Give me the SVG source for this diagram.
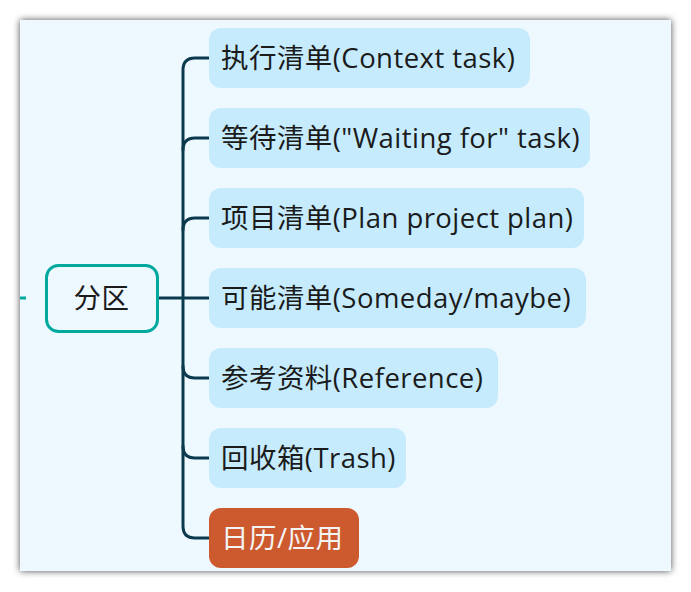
<svg xmlns="http://www.w3.org/2000/svg" width="691" height="592" viewBox="0 0 691 592">
<defs>
<filter id="sh" x="-10%" y="-10%" width="120%" height="120%">
<feDropShadow dx="0" dy="0" stdDeviation="3.5" flood-color="#000" flood-opacity="0.7"/>
</filter>
<style>
.child{fill:#c5ebfd;}
.lbl{font-family:"Open Sans","Noto Sans CJK SC",sans-serif;font-size:27.5px;letter-spacing:0.45px;fill:#1b1b1b;}
.conn{fill:none;stroke:#0b3a4e;stroke-width:3;stroke-linecap:round;}
</style>
</defs>
<rect x="20" y="20" width="651" height="551" fill="#eef9ff" filter="url(#sh)"/>
<g id="connectors">
<line x1="20" y1="298" x2="26" y2="298" stroke="#00a99d" stroke-width="3"/>
<path class="conn" d="M158 298 H209"/>
<path class="conn" d="M209 58 H195 Q183 58 183 70 V526 Q183 538 195 538 H209"/>
<path class="conn" d="M209 138 H195 Q183 138 183 150"/>
<path class="conn" d="M209 218 H195 Q183 218 183 230"/>
<path class="conn" d="M209 378 H195 Q183 378 183 366"/>
<path class="conn" d="M209 458 H195 Q183 458 183 446"/>
</g>
<g id="root">
<rect x="46.5" y="265.5" width="111" height="66" rx="12" fill="#eef9ff" stroke="#00a99d" stroke-width="3"/>
<text class="lbl" x="101.5" y="307.5" text-anchor="middle">分区</text>
</g>
<g id="n1">
<rect class="child" x="209" y="28" width="321" height="60" rx="12"/>
<text class="lbl" x="221" y="67.5">执行清单(Context task)</text>
</g>
<g id="n2">
<rect class="child" x="209" y="108" width="381" height="60" rx="12"/>
<text class="lbl" x="221" y="147.5">等待清单("Waiting for" task)</text>
</g>
<g id="n3">
<rect class="child" x="209" y="188" width="375" height="60" rx="12"/>
<text class="lbl" x="221" y="227.5">项目清单(Plan project plan)</text>
</g>
<g id="n4">
<rect class="child" x="209" y="268" width="377" height="60" rx="12"/>
<text class="lbl" x="221" y="307.5">可能清单(Someday/maybe)</text>
</g>
<g id="n5">
<rect class="child" x="209" y="348" width="289" height="60" rx="12"/>
<text class="lbl" x="221" y="387.5">参考资料(Reference)</text>
</g>
<g id="n6">
<rect class="child" x="209" y="428" width="197" height="60" rx="12"/>
<text class="lbl" x="221" y="467.5">回收箱(Trash)</text>
</g>
<g id="n7">
<rect x="209" y="508" width="150" height="60" rx="12" fill="#cc5a2e"/>
<text class="lbl" x="221" y="547.5" style="fill:#f4f4f4">日历/应用</text>
</g>
</svg>
